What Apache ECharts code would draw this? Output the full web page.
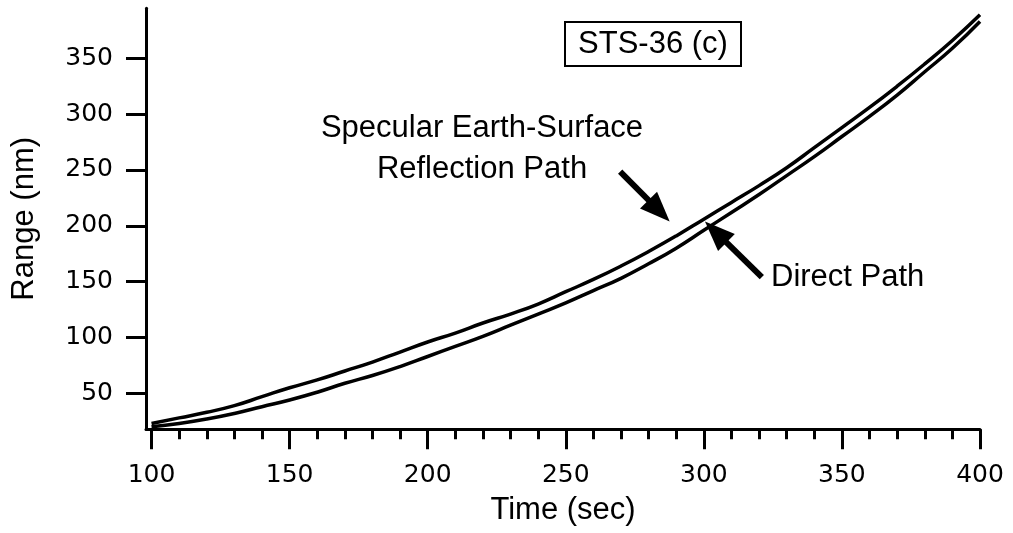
<!DOCTYPE html>
<html>
<head>
<meta charset="utf-8">
<script src="https://cdn.jsdelivr.net/npm/echarts@6.0.0/dist/echarts.min.js"></script>
<style>
html,body{margin:0;padding:0;background:#fff;}
#chart{width:1013px;height:533px;}
</style>
</head>
<body>
<div id="chart"></div>
<script>
// Time (sec)
const times = [100,110,120,130,140,150,160,170,180,190,200,210,220,230,240,250,260,270,280,290,300,310,320,330,340,350,360,370,380,390,400];
// Specular Earth-Surface Reflection Path range (nm)
const specular = [23,28,33,39,47,55,62,70,78,87,96,104,113,121,130,141,152,164,177,191,206,221,236,252,270,288,306,325,345,366,389];
// Direct Path range (nm)
const direct = [20,23,27,32,38,44,51,59,66,74,83,92,101,111,121,131,142,153,166,180,196,212,228,245,262,280,298,317,338,359,383];

const xLabelTicks = [100,150,200,250,300,350,400];
const xMinorTicks = [110,120,130,140,160,170,180,190,210,220,230,240,260,270,280,290,310,320,330,340,360,370,380,390];
const yTicks = [50,100,150,200,250,300,350];

// annotation arrows in data units: [tail, arrowhead centre]
const specArrow = [[269.7,248.6],[283.8,213.5]];
const directArrow = [[321.0,154.1],[304.3,194.5]];

const FONT = '"Liberation Sans", Arial, sans-serif';
const TICKFONT = '"DejaVu Sans", sans-serif';

const chart = echarts.init(document.getElementById('chart'), null, {renderer:'canvas'});

const arrowStyle = {
  symbol: ['none','triangle'],
  symbolSize: [24, 30],
  silent: true,
  label: {show:false},
  lineStyle: {color:'#000', width:6, type:'solid'},
  emphasis: {disabled:true}
};

chart.setOption({
  animation: false,
  backgroundColor: '#fff',
  grid: {left:146, right:33, top:8.3, bottom:103.7, containLabel:false},
  xAxis: [{
    type:'value', min:98, max:400, position:'bottom',
    name:'Time (sec)', nameLocation:'middle', nameGap:66,
    nameTextStyle:{fontFamily:FONT, fontSize:31, color:'#000'},
    axisLine:{show:true, lineStyle:{color:'#000', width:3}},
    axisTick:{show:true, customValues:xLabelTicks, length:20, lineStyle:{color:'#000', width:3}},
    axisLabel:{show:true, customValues:xLabelTicks, margin:34, fontFamily:TICKFONT, fontSize:25, color:'#000'},
    splitLine:{show:false}
  },{
    type:'value', min:98, max:400, position:'bottom', offset:0,
    axisLine:{show:false},
    axisTick:{show:true, customValues:xMinorTicks, length:10, lineStyle:{color:'#000', width:3}},
    axisLabel:{show:false},
    splitLine:{show:false}
  }],
  yAxis: {
    type:'value', min:17.8, max:394.8,
    name:'Range (nm)', nameLocation:'middle', nameGap:106,
    nameTextStyle:{fontFamily:FONT, fontSize:31, color:'#000'},
    axisLine:{show:true, lineStyle:{color:'#000', width:3}},
    axisTick:{show:true, customValues:yTicks, length:20, lineStyle:{color:'#000', width:3}},
    axisLabel:{show:true, customValues:yTicks, margin:33, fontFamily:TICKFONT, fontSize:25, color:'#000'},
    splitLine:{show:false}
  },
  series: [{
    name:'Specular Earth-Surface Reflection Path',
    type:'line', smooth:true, showSymbol:false, silent:true,
    data: times.map((t,i)=>[t, specular[i]]),
    lineStyle:{color:'#000', width:3.5},
    markLine: Object.assign({}, arrowStyle, {
      data:[[{coord:specArrow[0]},{coord:specArrow[1]}],[{coord:directArrow[0]},{coord:directArrow[1]}]]
    })
  },{
    name:'Direct Path',
    type:'line', smooth:true, showSymbol:false, silent:true,
    data: times.map((t,i)=>[t, direct[i]]),
    lineStyle:{color:'#000', width:3.5}
  }],
  graphic: [
    {type:'rect', shape:{x:565, y:22, width:176, height:44}, style:{fill:'#fff', stroke:'#000', lineWidth:2}},
    {type:'text', x:653, y:44, style:{text:'STS-36 (c)', font:'31px ' + FONT, fill:'#000', textAlign:'center', textVerticalAlign:'middle'}},
    {type:'text', x:482, y:128, style:{text:'Specular Earth-Surface', font:'31px ' + FONT, fill:'#000', textAlign:'center', textVerticalAlign:'middle'}},
    {type:'text', x:482, y:169, style:{text:'Reflection Path', font:'31px ' + FONT, fill:'#000', textAlign:'center', textVerticalAlign:'middle'}},
    {type:'text', x:771, y:277, style:{text:'Direct Path', font:'31px ' + FONT, fill:'#000', textAlign:'left', textVerticalAlign:'middle'}}
  ]
});
</script>
</body>
</html>
